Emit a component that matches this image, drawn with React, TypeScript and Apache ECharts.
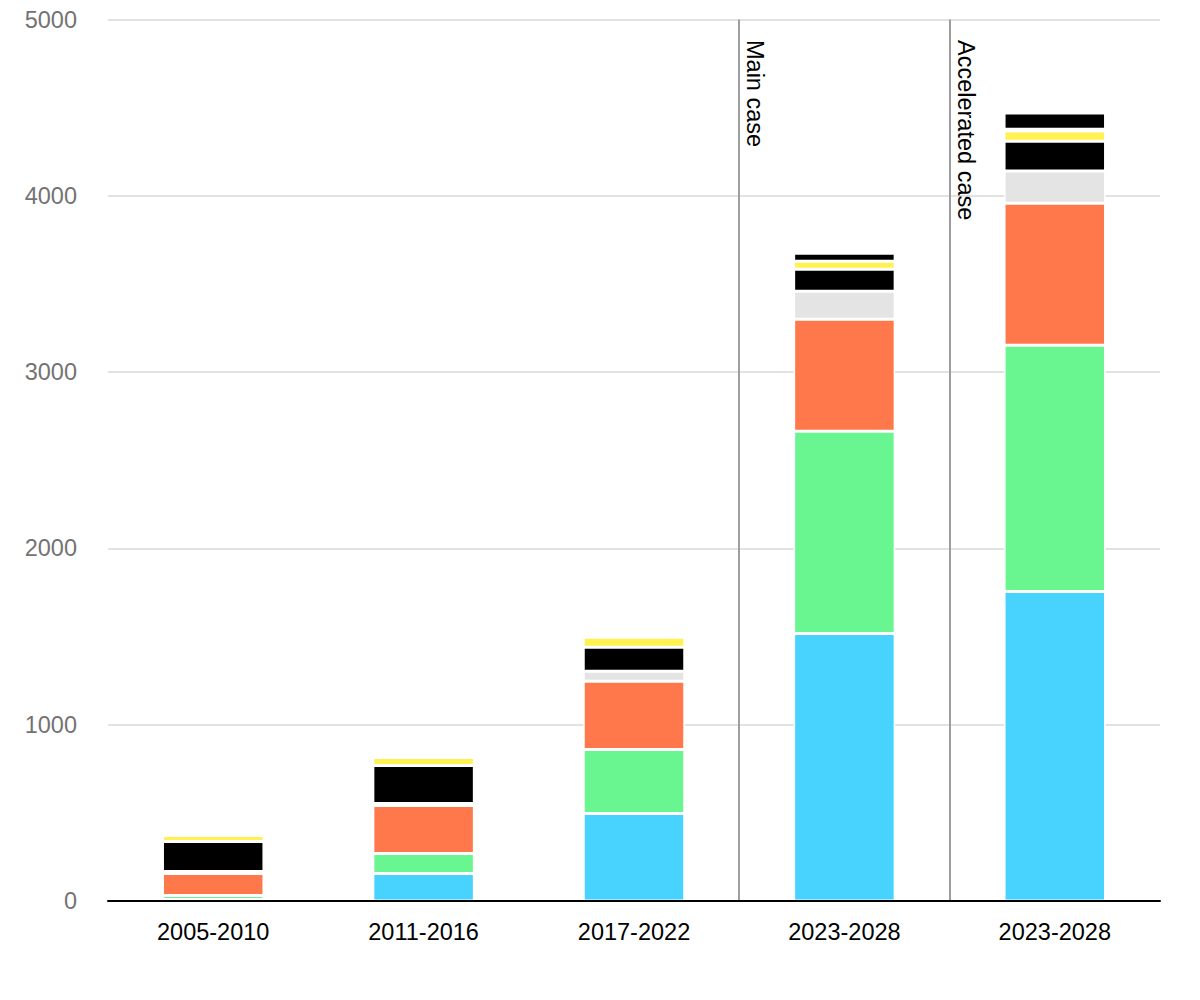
import React, { useEffect, useRef } from "react";
import * as echarts from "echarts";

// ---- Data ----
const categories = ["2005-2010", "2011-2016", "2017-2022", "2023-2028", "2023-2028"];
const yTickMax = 5000;
const yTickStep = 1000;

const solarPvUtility = [8, 156, 497, 1518, 1756];
const solarPvDistributed = [23, 114, 363, 1146, 1396];
const onshoreWind = [125, 272, 386, 636, 806];
const offshoreWind = [11, 11, 57, 159, 182];
const hydropower = [170, 216, 136, 125, 170];
const bioenergy = [34, 45, 57, 45, 57];
const otherMinor = [0, 0, 0, 0, 11];
const otherRenewables = [0, 0, 0, 45, 91];

const caseDividers = [2.5, 3.5];
const caseLabels = ["Main case", "Accelerated case"];

const FONT = "'Liberation Sans', Arial, Helvetica, sans-serif";

const seriesDefs = [
  { name: "Solar PV - utility", data: solarPvUtility, color: "#48D3FF" },
  { name: "Solar PV - distributed", data: solarPvDistributed, color: "#69F691" },
  { name: "Onshore wind", data: onshoreWind, color: "#FF784B" },
  { name: "Offshore wind", data: offshoreWind, color: "#E4E4E4" },
  { name: "Hydropower", data: hydropower, color: "#000000" },
  { name: "Bioenergy", data: bioenergy, color: "#FFF150" },
  { name: "Other (minor)", data: otherMinor, color: "#9A9A9A" },
  { name: "Other renewables", data: otherRenewables, color: "#000000" },
];

export default function App() {
  const ref = useRef<HTMLDivElement>(null);

  useEffect(() => {
    document.body.style.margin = "0";
    if (!ref.current) return;
    const chart = echarts.init(ref.current, undefined, { renderer: "svg" });

    const option: any = {
      animation: false,
      backgroundColor: "#ffffff",
      grid: { left: 108, right: 40, top: 19.5, bottom: 99, containLabel: false },
      xAxis: [
        {
          type: "category",
          data: categories,
          z: 10,
          axisLine: { show: true, lineStyle: { color: "#000000", width: 2 } },
          axisTick: { show: false },
          axisLabel: { color: "#000000", fontSize: 23.5, fontFamily: FONT, margin: 19 },
          splitLine: { show: false },
        },
        {
          type: "value",
          show: false,
          min: -0.5,
          max: categories.length - 0.5,
          splitLine: { show: false },
        },
      ],
      yAxis: {
        type: "value",
        min: 0,
        max: yTickMax,
        interval: yTickStep,
        axisLine: { show: false },
        axisTick: { show: false },
        axisLabel: {
          color: "#737373",
          fontSize: 23.5,
          fontFamily: FONT,
          margin: 31,
          verticalAlign: "middle",
          padding: [10, 0, 0, 0],
          formatter: (v: number) => String(v),
        },
        splitLine: { show: true, lineStyle: { color: "#E2E2E2", width: 2 } },
      },
      series: [
        ...seriesDefs.map((s) => ({
          name: s.name,
          type: "bar",
          stack: "total",
          xAxisIndex: 0,
          barWidth: 101.5,
          data: s.data,
          itemStyle: { color: s.color, borderColor: "#ffffff", borderWidth: 1.5 },
          emphasis: { disabled: true },
        })),
        {
          name: "dividers",
          type: "line",
          xAxisIndex: 1,
          yAxisIndex: 0,
          data: [],
          silent: true,
          markLine: {
            silent: true,
            symbol: ["none", "none"],
            label: { show: false },
            lineStyle: { color: "#9E9E9E", width: 2, type: "solid" },
            data: caseDividers.map((v) => ({ xAxis: v })),
          },
        },
      ],
    };

    chart.setOption(option);

    const graphics = caseDividers.map((v, i) => {
      const px = chart.convertToPixel({ xAxisIndex: 1 } as any, v) as number;
      return {
        type: "text",
        x: px + 16,
        y: 40,
        rotation: -Math.PI / 2,
        silent: true,
        style: {
          text: caseLabels[i],
          fontSize: 23.5,
          fontFamily: FONT,
          fill: "#000000",
          align: "left",
          verticalAlign: "middle",
        },
      };
    });
    chart.setOption({ graphic: graphics });

    return () => {
      chart.dispose();
    };
  }, []);

  return <div ref={ref} style={{ width: 1200, height: 1000 }} />;
}
